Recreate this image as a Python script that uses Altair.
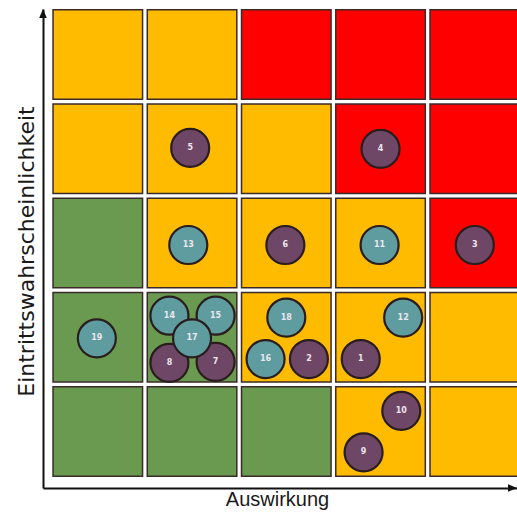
import altair as alt
import pandas as pd

# ---- data -------------------------------------------------------------
impact_levels = [1, 2, 3, 4, 5]
likelihood_levels = [5, 4, 3, 2, 1]          # rows from top to bottom
matrix_rows = [
    ["O", "O", "R", "R", "R"],   # likelihood 5
    ["O", "O", "O", "R", "R"],   # likelihood 4
    ["G", "O", "O", "O", "R"],   # likelihood 3
    ["G", "G", "O", "O", "O"],   # likelihood 2
    ["G", "G", "G", "O", "O"],   # likelihood 1
]
zone_names = ["G", "O", "R"]
zone_colors = ["#699A50", "#FFBB00", "#FF0000"]

risk_ids = list(range(1, 20))
risk_impact = [3.79, 3.24, 5.00, 4.00, 1.98, 2.99, 2.25, 1.76, 3.82, 4.22,
               3.99, 4.24, 1.96, 1.76, 2.25, 2.78, 2.00, 3.00, 0.99]
risk_likelihood = [1.77, 1.77, 2.98, 4.00, 4.01, 2.98, 1.74, 1.73, 0.78, 1.22,
                   2.98, 2.21, 2.98, 2.23, 2.23, 1.77, 1.99, 2.21, 1.99]
risk_type = ["A"] * 10 + ["B"] * 9
type_names = ["A", "B"]
type_colors = ["#6E4766", "#5E9CA0"]

cells = pd.DataFrame(
    [{"impact": impact_levels[c], "likelihood": likelihood_levels[r], "zone": matrix_rows[r][c]}
     for r in range(5) for c in range(5)]
)
risks = pd.DataFrame({"id": risk_ids, "impact": risk_impact,
                      "likelihood": risk_likelihood, "type": risk_type})

# ---- scales / axes ---------------------------------------------------
W, H = 474, 479
xscale = alt.Scale(domain=[0.4186, 5.4478], nice=False, zero=False)
yscale = alt.Scale(domain=[0.4016, 5.4838], nice=False, zero=False)

xaxis = alt.Axis(title="Auswirkung", ticks=False, labels=False, grid=False,
                 domain=True, domainColor="#111111", domainWidth=2,
                 titleFont="Liberation Sans", titleFontSize=20, titleFontWeight="normal",
                 titleColor="#1a1a1a", titleX=234, titleY=17,
                 titleAlign="center", titleBaseline="alphabetic")
yaxis = alt.Axis(title="Eintrittswahrscheinlichkeit", ticks=False, labels=False, grid=False,
                 domain=True, domainColor="#111111", domainWidth=2,
                 titleFont="DejaVu Sans", titleFontSize=22, titleFontWeight="normal",
                 titleColor="#1a1a1a", titleAngle=270, titleX=-10, titleY=242,
                 titleAlign="center", titleBaseline="alphabetic")

half = 0.475

cell_layer = alt.Chart(cells).transform_calculate(
    x0=f"datum.impact - {half}", x1=f"datum.impact + {half}",
    y0=f"datum.likelihood - {half}", y1=f"datum.likelihood + {half}",
).mark_rect(stroke="#3a2a2a", strokeWidth=1.5, clip=True).encode(
    x=alt.X("x0:Q", scale=xscale, axis=xaxis),
    x2="x1:Q",
    y=alt.Y("y0:Q", scale=yscale, axis=yaxis),
    y2="y1:Q",
    fill=alt.Fill("zone:N", scale=alt.Scale(domain=zone_names, range=zone_colors), legend=None),
)

circle_layer = alt.Chart(risks).mark_circle(
    size=1444, opacity=1, stroke="#2a1d1d", strokeWidth=2.2, clip=True
).encode(
    x=alt.X("impact:Q", scale=xscale, axis=xaxis),
    y=alt.Y("likelihood:Q", scale=yscale, axis=yaxis),
    color=alt.Color("type:N", scale=alt.Scale(domain=type_names, range=type_colors), legend=None),
    order=alt.Order("id:Q"),
)

label_layer = alt.Chart(risks).mark_text(
    fontSize=8, fontWeight="bold", font="DejaVu Sans", color="#EDE6EC", baseline="middle", align="center"
).encode(
    x=alt.X("impact:Q", scale=xscale, axis=xaxis),
    y=alt.Y("likelihood:Q", scale=yscale, axis=yaxis),
    text="id:N",
)

arrow_df = pd.DataFrame({"a": [0]})
arrow_up = alt.Chart(arrow_df).mark_point(
    shape="M0,-1L0.85,1L-0.85,1Z", size=81, filled=True, color="#111111", opacity=1
).encode(x=alt.value(0), y=alt.value(4.5))
arrow_right = alt.Chart(arrow_df).mark_point(
    shape="M1,0L-1,-0.85L-1,0.85Z", size=81, filled=True, color="#111111", opacity=1
).encode(x=alt.value(W - 4.5), y=alt.value(H))

chart = alt.layer(cell_layer, circle_layer, label_layer, arrow_up, arrow_right).resolve_scale(
    color="independent", fill="independent"
).properties(
    width=W, height=H,
    autosize=alt.AutoSizeParams(type="none"),
    padding={"left": 43, "top": 9, "right": 0, "bottom": 22},
    background="white",
).configure_view(stroke=None)

chart.save("out.html", embed_options={"renderer": "svg", "actions": False})
